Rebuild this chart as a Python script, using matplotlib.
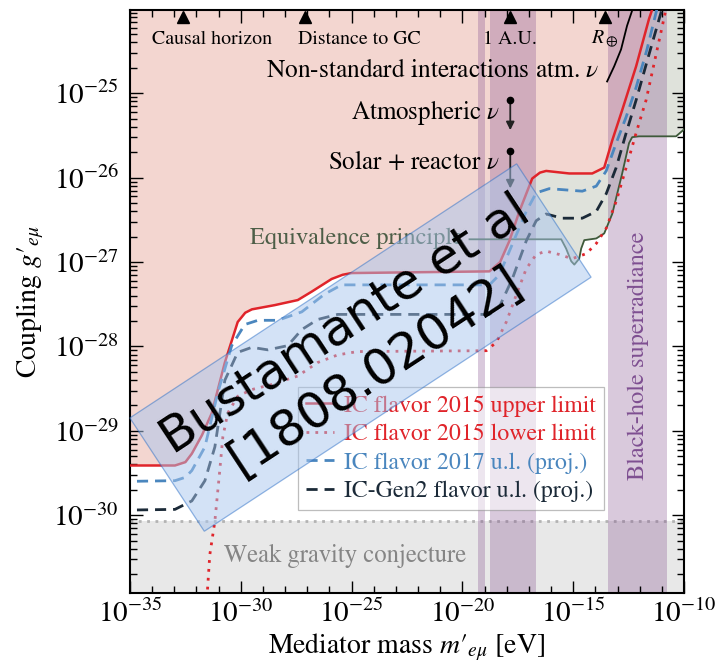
import numpy as np
import matplotlib
matplotlib.use('Agg')
import matplotlib.pyplot as plt
from matplotlib.ticker import NullFormatter, FixedLocator

plt.rcParams['font.family'] = ['STIXGeneral', 'DejaVu Serif']
plt.rcParams['mathtext.fontset'] = 'stix'

# ---------------- data (log10 of mass [eV] and coupling) ----------------
upper_logm = [-35.5, -32.97, -32.5, -32.21, -31.75, -31.31, -30.72, -30.14, -29.8, -29.5,
              -28.47, -27.43, -26.80, -25.90, -25.4, -25.0, -18.78, -18.3, -17.88, -17.43,
              -16.85, -16.5, -16.22, -15.18, -14.14, -13.60, -13.24, -12.79, -12.16, -11.58, -11.3]
upper_logg = [-29.41, -29.41, -29.37, -29.27, -29.05, -28.79, -28.19, -27.71, -27.6, -27.56,
              -27.51, -27.45, -27.35, -27.20, -27.15, -27.13, -27.11, -27.0, -26.75, -26.40,
              -26.01, -25.94, -25.92, -25.95, -25.95, -25.88, -25.56, -25.20, -24.68, -24.12, -23.9]

lower_logm = [-31.56, -31.53, -31.40, -31.17, -30.95, -30.81, -30.59, -30.14, -29.50, -28.60,
              -27.43, -26.53, -25.63, -24.73, -18.92, -18.47, -18.02, -17.57, -17.12, -16.67,
              -16.22, -15.63, -15.05, -14.41, -13.96, -13.51, -13.06, -12.61, -12.16, -11.71,
              -11.26, -10.81, -10.65]
lower_logg = [-31.3, -30.99, -30.47, -30.07, -29.47, -29.07, -28.79, -28.59, -28.51, -28.45,
              -28.35, -28.19, -28.10, -28.06, -28.05, -27.95, -27.71, -27.39, -27.08, -26.91,
              -26.87, -26.91, -26.96, -26.90, -26.78, -26.60, -26.28, -25.88, -25.47, -25.08,
              -24.54, -24.0, -23.8]

ic2017_logm = [-35.5, -32.97, -32.5, -32.21, -31.62, -31.04, -30.41, -29.82, -29.23, -28.33,
               -27.25, -26.22, -25.45, -18.78, -18.33, -17.75, -17.12, -16.67, -16.08, -14.59,
               -13.96, -13.51, -13.06, -12.61, -12.16, -11.67, -11.22, -11.0]
ic2017_logg = [-29.60, -29.59, -29.55, -29.47, -29.19, -28.55, -27.99, -27.74, -27.69, -27.69,
               -27.59, -27.38, -27.27, -27.27, -27.15, -26.79, -26.40, -26.18, -26.13, -26.16,
               -26.10, -25.92, -25.59, -25.28, -24.93, -24.48, -24.0, -23.8]

gen2_logm = [-35.5, -32.97, -32.21, -31.62, -31.17, -30.72, -30.14, -29.50, -28.78, -27.88,
             -27.25, -26.53, -25.63, -18.78, -18.33, -17.75, -17.12, -16.67, -16.22, -15.50,
             -14.59, -13.96, -13.51, -13.06, -12.61, -12.16, -11.58, -10.99, -10.8]
gen2_logg = [-29.94, -29.93, -29.83, -29.59, -29.19, -28.40, -28.07, -28.01, -28.04, -27.99,
             -27.80, -27.68, -27.62, -27.62, -27.53, -27.20, -26.75, -26.51, -26.43, -26.48,
             -26.48, -26.40, -26.19, -25.88, -25.47, -25.08, -24.54, -24.0, -23.8]

ep_logm = [-19.68, -15.54, -15.32, -15.09, -14.95, -14.73, -14.64, -14.50, -13.96, -13.60,
           -13.24, -12.79, -12.48, -12.34, -12.03, -10.36, -10.05, -9.9]
ep_logg = [-26.73, -26.73, -26.84, -26.99, -27.03, -26.96, -26.84, -26.74, -26.72, -26.66,
           -26.43, -25.95, -25.59, -25.52, -25.51, -25.51, -25.44, -25.4]

nsi_logm = [-13.47, -13.15, -12.84, -12.57, -12.34, -12.3]
nsi_logg = [-24.86, -24.68, -24.48, -24.20, -24.02, -23.9]

wgc_logg = -30.07

band_logm = [(-19.28, -18.96), (-18.74, -16.67), (-13.42, -10.77)]

scale_logm = [-32.61, -27.12, -17.84, -13.56]
scale_labels = ['Causal horizon', 'Distance to GC', '1 A.U.', r'$R_\oplus$']

arrow_logm = -17.84
atm_logg = (-25.08, -25.47)
solar_logg = (-25.68, -26.16)

legend_labels = ['IC flavor 2015 upper limit', 'IC flavor 2015 lower limit',
                 'IC flavor 2017 u.l. (proj.)', 'IC-Gen2 flavor u.l. (proj.)']

xtick_logs = [-35, -30, -25, -20, -15, -10]
ytick_logs = [-30, -29, -28, -27, -26, -25]


def P(a):
    return 10.0 ** np.asarray(a)


# ---------------- figure ----------------
fig = plt.figure(figsize=(7.21, 6.69), dpi=100)
ax = fig.add_axes([130/721, 1 - 593/669, 554/721, 583/669])
ax.set_xscale('log')
ax.set_yscale('log')
XMIN, XMAX = 1e-35, 1e-10
YMIN, YMAX = 1.2e-31, 0.97e-24
TOP = 1e-23

RED = '#e0242a'
BLUE = '#4a86be'
DARK = '#1b2a38'
GREEN = '#3e5a3a'
PINK = '#f3d6d0'
GGREEN = '#dfe2db'

# weak gravity conjecture
ax.fill_between([1e-36, 1e-9], 1e-33, P(wgc_logg), color='#e8e8e8', lw=0, zorder=0)
ax.axhline(P(wgc_logg), color='#b3b3b3', ls=(0, (1, 2)), lw=2, zorder=0.5)

# equivalence principle region
ax.fill_between(P(ep_logm), P(ep_logg), TOP, color=GGREEN, lw=0, zorder=0.6)
# IC 2015 excluded region
ax.fill_between(P(upper_logm), P(upper_logg), TOP, color=PINK, lw=0, zorder=0.7)

# purple bands
for lo, hi in band_logm:
    ax.axvspan(P(lo), P(hi), color='#824e8e', alpha=0.3, lw=0, zorder=1)

# lines
ax.plot(P(ep_logm), P(ep_logg), color=GREEN, lw=1.3, zorder=3)
ax.plot(P(nsi_logm), P(nsi_logg), color='black', lw=1.3, zorder=3)
l1, = ax.plot(P(upper_logm), P(upper_logg), color=RED, lw=1.8, zorder=4)
l2, = ax.plot(P(lower_logm), P(lower_logg), color=RED, lw=2.0, ls=(0, (1, 2.2)), zorder=4)
l3, = ax.plot(P(ic2017_logm), P(ic2017_logg), color=BLUE, lw=2.0, ls=(0, (4, 2.5)), zorder=4)
l4, = ax.plot(P(gen2_logm), P(gen2_logg), color=DARK, lw=2.0, ls=(0, (4, 2.5)), zorder=4)

# scale markers at top
ax.plot(P(scale_logm), [10**-24.10] * 4, marker='^', ls='none', color='black', ms=9, zorder=5)
ax.text(10**-34.0, 10**-24.36, scale_labels[0], fontsize=14.3, ha='left', va='center')
ax.text(10**-27.4, 10**-24.36, scale_labels[1], fontsize=14.3, ha='left', va='center')
ax.text(10**scale_logm[2], 10**-24.36, scale_labels[2], fontsize=14.3, ha='center', va='center')
ax.text(10**scale_logm[3], 10**-24.36, scale_labels[3], fontsize=14.3, ha='center', va='center')

ax.text(10**-13.83, 10**-24.74, r'Non-standard interactions atm. $\nu$', fontsize=18.3,
        ha='right', va='center', zorder=5)
ax.text(10**-18.33, 10**-25.23, r'Atmospheric $\nu$', fontsize=18, ha='right', va='center', zorder=5)
ax.text(10**-18.33, 10**-25.83, r'Solar + reactor $\nu$', fontsize=18, ha='right', va='center', zorder=5)
for g0, g1 in (atm_logg, solar_logg):
    ax.annotate('', xy=(10**arrow_logm, 10**g1), xytext=(10**arrow_logm, 10**g0),
                arrowprops=dict(arrowstyle='-|>', color='#222222', lw=1.3, mutation_scale=12),
                zorder=5)
    ax.plot([10**arrow_logm], [10**g0], marker='o', color='black', ms=4.5, zorder=5)

ax.text(10**-20.0, 10**-26.72, 'Equivalence principle', fontsize=17.5, color='#4d5e47',
        ha='right', va='center', zorder=5)
ax.text(10**-25.27, 10**-30.48, 'Weak gravity conjecture', fontsize=17.7, color='#858585',
        ha='center', va='center', zorder=5)
ax.text(10**-12.07, 10**-28.11, 'Black-hole superradiance', fontsize=17.6, color='#7e4f91',
        rotation=90, ha='center', va='center', zorder=5)

# legend
handles = [l1, l2, l3, l4]
leg = ax.legend(handles, legend_labels, loc='upper left', bbox_to_anchor=(0.303, 0.353),
                borderaxespad=0, fontsize=17.2, handlelength=1.2, handletextpad=0.4,
                fancybox=False, framealpha=0.55, edgecolor='#888888', labelspacing=0.28,
                borderpad=0.33)
leg.get_frame().set_linewidth(0.9)
for txt, c in zip(leg.get_texts(), [RED, RED, BLUE, DARK]):
    txt.set_color(c)
leg.set_zorder(6)

# axes formatting
ax.set_xlim(XMIN, XMAX)
ax.set_ylim(YMIN, YMAX)
ax.xaxis.set_major_locator(FixedLocator(P(xtick_logs)))
ax.xaxis.set_minor_locator(FixedLocator(P(np.arange(-35, -9))))
ax.xaxis.set_minor_formatter(NullFormatter())
ax.yaxis.set_major_locator(FixedLocator(P(ytick_logs)))
yminor = [m * 10.0**d for d in range(-32, -23) for m in range(2, 10)]
yminor = [v for v in yminor if YMIN <= v <= YMAX]
ax.yaxis.set_minor_locator(FixedLocator(yminor))
ax.yaxis.set_minor_formatter(NullFormatter())
ax.tick_params(which='both', direction='in', top=True, right=True, labelsize=21, width=1.0)
ax.tick_params(which='major', length=9)
ax.tick_params(which='minor', length=5)
ax.tick_params(axis='x', pad=5)
ax.tick_params(axis='y', pad=8)
for s in ax.spines.values():
    s.set_linewidth(1.5)

ax.set_xlabel(r"Mediator mass $m\prime_{e\mu}$ [eV]", fontsize=20, labelpad=2)
ax.set_ylabel(r"Coupling $g\prime_{e\mu}$", fontsize=20, labelpad=5)

# watermark
ax.text(0.416, 0.421, 'Bustamante et al\n[1808.02042]', transform=ax.transAxes,
        fontsize=36, family='DejaVu Sans', rotation=33.3, rotation_mode='anchor',
        ha='center', va='center', multialignment='center', color='black', zorder=10,
        bbox=dict(boxstyle='square,pad=0.32', facecolor='#a8c6ee', alpha=0.5,
                  edgecolor='#2c6fc7', lw=0.9))

fig.savefig('out.png', dpi=100)
